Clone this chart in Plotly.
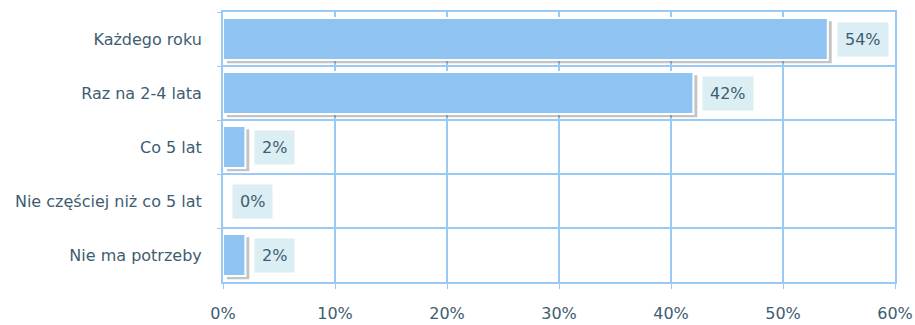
import plotly.graph_objects as go

categories = ["Każdego roku", "Raz na 2-4 lata", "Co 5 lat", "Nie częściej niż co 5 lat", "Nie ma potrzeby"]
values = [54, 42, 2, 0, 2]
tick_vals = [0, 10, 20, 30, 40, 50, 60]
tick_text = ["0%", "10%", "20%", "30%", "40%", "50%", "60%"]

FONT = "DejaVu Sans"
TXT = "#3e5d70"
GRID = "#99c9f5"
BAR = "#8fc4f2"

fig = go.Figure()
# shadow
fig.add_trace(go.Bar(
    y=categories, x=values, base=0.35, orientation="h", width=0.78, offset=-0.33,
    marker=dict(color="rgba(60,60,60,0.3)", line=dict(width=0)),
    hoverinfo="skip", showlegend=False,
))
fig.add_trace(go.Bar(
    y=categories, x=values, orientation="h", width=0.78,
    marker=dict(color=BAR, line=dict(color="white", width=2)),
    showlegend=False,
))
for c, v in zip(categories, values):
    fig.add_annotation(
        x=v, y=c, xref="x", yref="y", text=f"{v}%", showarrow=False,
        xanchor="left", xshift=9, bgcolor="#daeef4", borderpad=7,
        font=dict(family=FONT, size=16, color=TXT),
    )

fig.update_layout(
    width=915, height=325, margin=dict(l=223, r=20, t=12, b=43),
    paper_bgcolor="white", plot_bgcolor="white", barmode="overlay",
    font=dict(family=FONT, size=16, color=TXT),
)
fig.update_xaxes(
    range=[0, 60], tickvals=tick_vals, ticktext=tick_text, automargin=False,
    showgrid=True, gridcolor=GRID, gridwidth=1.5,
    showline=True, linecolor=GRID, linewidth=2, mirror=True,
    ticks="outside", ticklen=5, tickcolor=GRID, ticklabelstandoff=11,
    zeroline=False, tickfont=dict(family=FONT, size=16, color=TXT),
)
fig.update_yaxes(
    categoryorder="array", categoryarray=categories, autorange="reversed", automargin=False,
    tickson="boundaries", showgrid=True, gridcolor=GRID, gridwidth=1.5,
    showline=True, linecolor=GRID, linewidth=2, mirror=True,
    ticks="outside", ticklen=4, tickcolor=GRID, ticklabelstandoff=16,
    tickfont=dict(family=FONT, size=16, color=TXT),
)
fig.write_html("out.html")
